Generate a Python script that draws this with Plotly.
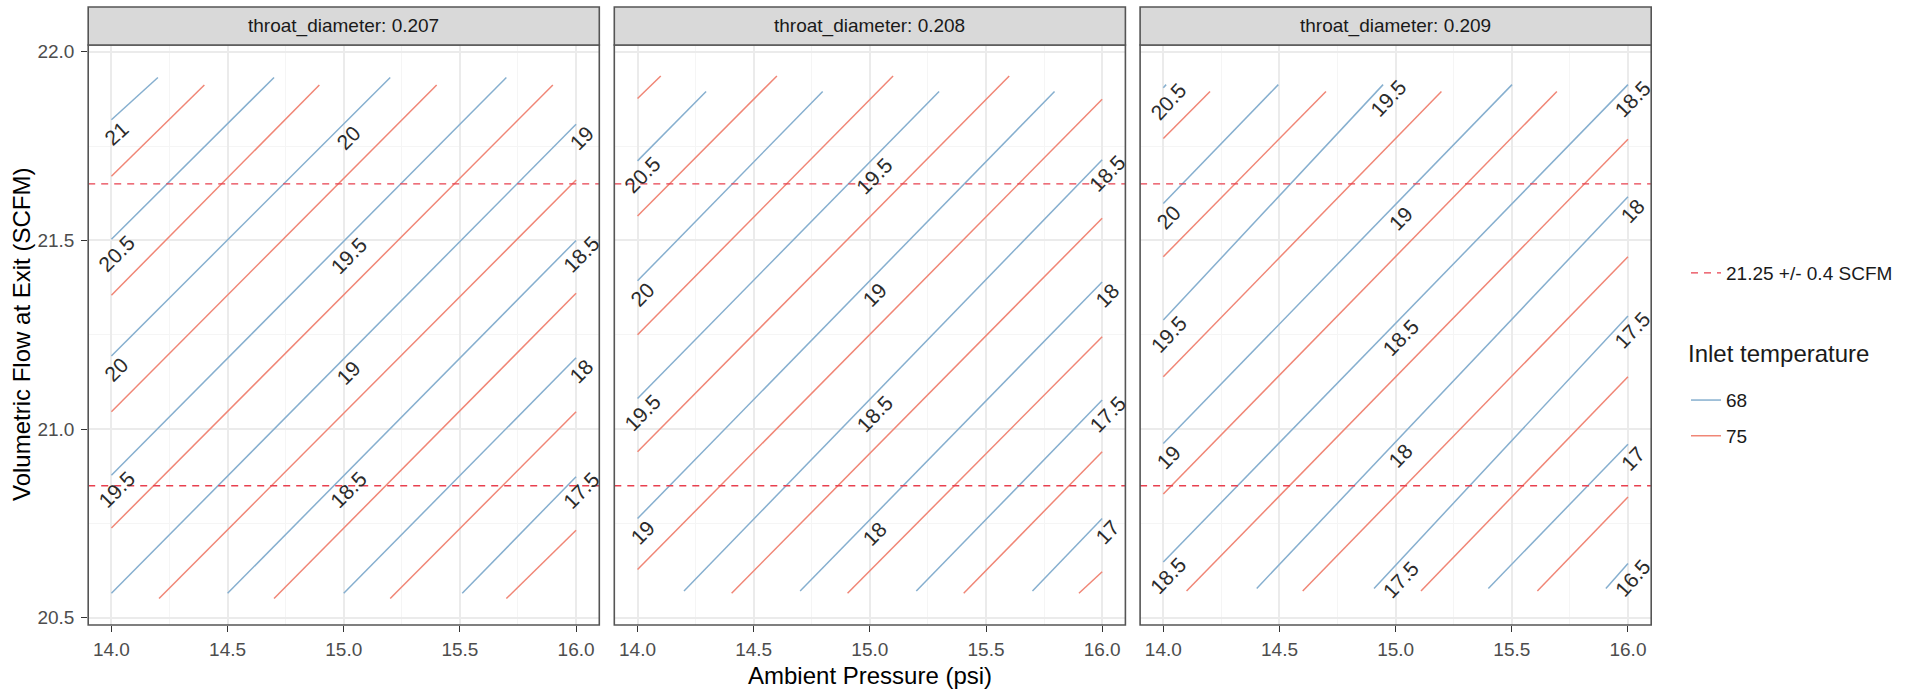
import math
import plotly.graph_objects as go

FIG_W, FIG_H = 1915, 690

# ---------------- data ----------------
facet_values = ["0.207", "0.208", "0.209"]
temperatures = ["68", "75"]
temp_colors = {"68": "#86AFCF", "75": "#F08676"}

target_flow = 21.25
flow_tolerance = 0.4

x_ticks = [14.0, 14.5, 15.0, 15.5, 16.0]
y_ticks = [20.5, 21.0, 21.5, 22.0]
x_range = [13.9, 16.1]
y_range = [20.481, 22.018]

# contour segments: (level, x_start, y_start, x_end, y_end)
d207_t68 = [
    (21.0, 14.00, 21.820, 14.200, 21.932),
    (20.5, 14.00, 21.503, 14.700, 21.932),
    (20.0, 14.00, 21.194, 15.200, 21.932),
    (19.5, 14.00, 20.878, 15.700, 21.932),
    (19.0, 14.00, 20.565, 16.000, 21.808),
    (18.5, 14.50, 20.565, 16.000, 21.500),
    (18.0, 15.00, 20.565, 16.000, 21.189),
    (17.5, 15.51, 20.565, 16.000, 20.874),
]
d207_t75 = [
    (21.0, 14.000, 21.670, 14.400, 21.912),
    (20.5, 14.000, 21.355, 14.895, 21.912),
    (20.0, 14.000, 21.046, 15.400, 21.912),
    (19.5, 14.000, 20.738, 15.900, 21.912),
    (19.0, 14.205, 20.551, 16.000, 21.660),
    (18.5, 14.700, 20.551, 16.000, 21.360),
    (18.0, 15.200, 20.551, 16.000, 21.046),
    (17.5, 15.700, 20.551, 16.000, 20.732),
]
d208_t68 = [
    (20.5, 14.000, 21.711, 14.295, 21.895),
    (20.0, 14.000, 21.393, 14.797, 21.895),
    (19.5, 14.000, 21.081, 15.298, 21.895),
    (19.0, 14.000, 20.763, 15.795, 21.895),
    (18.5, 14.200, 20.571, 16.000, 21.714),
    (18.0, 14.700, 20.571, 16.000, 21.390),
    (17.5, 15.200, 20.571, 16.000, 21.077),
    (17.0, 15.700, 20.571, 16.000, 20.763),
]
d208_t75 = [
    (21.0, 14.000, 21.876, 14.100, 21.936),
    (20.5, 14.000, 21.565, 14.600, 21.936),
    (20.0, 14.000, 21.250, 15.100, 21.936),
    (19.5, 14.000, 20.940, 15.600, 21.936),
    (19.0, 14.000, 20.628, 16.000, 21.874),
    (18.5, 14.405, 20.565, 16.000, 21.559),
    (18.0, 14.904, 20.565, 16.000, 21.245),
    (17.5, 15.404, 20.565, 16.000, 20.940),
    (17.0, 15.900, 20.565, 16.000, 20.622),
]
d209_t68 = [
    (20.5, 14.000, 21.905, 14.012, 21.913),
    (20.0, 14.000, 21.598, 14.495, 21.913),
    (19.5, 14.000, 21.289, 14.946, 21.913),
    (19.0, 14.000, 20.962, 15.501, 21.913),
    (18.5, 14.000, 20.648, 16.000, 21.913),
    (18.0, 14.402, 20.578, 16.000, 21.616),
    (17.5, 14.907, 20.578, 16.000, 21.300),
    (17.0, 15.399, 20.578, 16.000, 20.960),
    (16.5, 15.905, 20.578, 16.000, 20.644),
]
d209_t75 = [
    (20.5, 14.000, 21.770, 14.201, 21.895),
    (20.0, 14.000, 21.457, 14.700, 21.895),
    (19.5, 14.000, 21.139, 15.197, 21.895),
    (19.0, 14.000, 20.828, 15.694, 21.895),
    (18.5, 14.100, 20.571, 16.000, 21.768),
    (18.0, 14.600, 20.571, 16.000, 21.457),
    (17.5, 15.109, 20.571, 16.000, 21.139),
    (17.0, 15.610, 20.571, 16.000, 20.820),
]

contours = {
    ("0.207", "68"): d207_t68, ("0.207", "75"): d207_t75,
    ("0.208", "68"): d208_t68, ("0.208", "75"): d208_t75,
    ("0.209", "68"): d209_t68, ("0.209", "75"): d209_t75,
}

# contour labels (on the 68 contours): (level, x position along the axis)
labels_207 = [(21, 14), (20.5, 14), (20, 14), (19.5, 14),
              (20, 15), (19.5, 15), (19, 15), (18.5, 15),
              (19, 16), (18.5, 16), (18, 16), (17.5, 16)]
labels_208 = [(20.5, 14), (20, 14), (19.5, 14), (19, 14),
              (19.5, 15), (19, 15), (18.5, 15), (18, 15),
              (18.5, 16), (18, 16), (17.5, 16), (17, 16)]
labels_209 = [(20.5, 14), (20, 14), (19.5, 14), (19, 14), (18.5, 14),
              (19.5, 15), (19, 15), (18.5, 15), (18, 15), (17.5, 15),
              (18.5, 16), (18, 16), (17.5, 16), (17, 16), (16.5, 16)]
contour_labels = {"0.207": labels_207, "0.208": labels_208, "0.209": labels_209}

# ---------------- layout geometry (pixels) ----------------
panel_left_px = [88.2, 614.3, 1140.1]
panel_w_px = 511.1
panel_top_px, panel_bottom_px = 45, 625
strip_top_px = 7

def xp(px):
    return px / FIG_W

def yp(py):
    return 1 - py / FIG_H

FONT = "Liberation Sans, Arial, Helvetica, sans-serif"
BORDER = "#555555"

y_dom = [yp(panel_bottom_px), yp(panel_top_px)]
px_per_x = panel_w_px / (x_range[1] - x_range[0])
px_per_y = (panel_bottom_px - panel_top_px) / (y_range[1] - y_range[0])

fig = go.Figure()

def ax_suffix(i):
    return "" if i == 0 else str(i + 1)

for i, fv in enumerate(facet_values):
    xa = "x" + ax_suffix(i)
    ya = "y" + ax_suffix(i)
    for t in temperatures:
        xs, ys = [], []
        for lev, x0, y0, x1, y1 in contours[(fv, t)]:
            xs += [x0, x1, None]
            ys += [y0, y1, None]
        tr = dict(
            x=xs, y=ys, mode="lines", xaxis=xa, yaxis=ya,
            line=dict(color=temp_colors[t], width=1.5),
            name=t, legend="legend2", legendgroup="t" + t,
            showlegend=(i == 0), hoverinfo="skip")
        if t == temperatures[0]:
            tr["legendgrouptitle"] = dict(text=" ", font=dict(size=8))
        fig.add_trace(go.Scatter(**tr))
    # tolerance band lines
    fig.add_trace(go.Scatter(
        x=[x_range[0], x_range[1], None, x_range[0], x_range[1]],
        y=[target_flow + flow_tolerance] * 2 + [None] + [target_flow - flow_tolerance] * 2,
        mode="lines", xaxis=xa, yaxis=ya,
        line=dict(color="#E8404F", width=1.4, dash="7px,6px"),
        name="21.25 +/- 0.4 SCFM", legend="legend", legendgroup="tol",
        showlegend=(i == 0), hoverinfo="skip"))

    # contour labels
    segs = {lev: (x0, y0, x1, y1) for lev, x0, y0, x1, y1 in contours[(fv, "68")]}
    for lev, xa_pos in contour_labels[fv]:
        x0, y0, x1, y1 = segs[lev]
        xq = min(max(xa_pos, x0), x1)
        slope = (y1 - y0) / (x1 - x0)
        yq = y0 + slope * (xq - x0)
        ang = math.degrees(math.atan(slope * px_per_y / px_per_x))
        fig.add_annotation(x=xq, y=yq, xref=xa, yref=ya, text="%g" % lev, showarrow=False,
                           xanchor="center", yanchor="middle",
                           textangle=-ang, xshift=5, yshift=-14,
                           font=dict(family=FONT, size=21, color="#2B2B2B"))

    # axes
    xd = [xp(panel_left_px[i]), xp(panel_left_px[i] + panel_w_px)]
    fig.update_layout(**{
        "xaxis" + ax_suffix(i): dict(
            domain=xd, range=x_range, anchor=ya, tickvals=x_ticks, tickformat=".1f",
            ticks="outside", ticklen=6, tickcolor="#333333", tickwidth=1.2,
            ticklabelstandoff=1,
            showgrid=True, gridcolor="#EBEBEB", gridwidth=1.6, zeroline=False,
            showline=False, automargin=False,
            tickfont=dict(family=FONT, size=19, color="#4D4D4D"),
            minor=dict(dtick=0.25, tick0=14, showgrid=True, gridcolor="#F5F5F5",
                       gridwidth=1, ticks=""),
        ),
        "yaxis" + ax_suffix(i): dict(
            domain=y_dom, range=y_range, anchor=xa, tickvals=y_ticks, tickformat=".1f",
            ticks="outside" if i == 0 else "", ticklen=6, tickcolor="#333333", tickwidth=1.2,
            showticklabels=(i == 0), ticklabelstandoff=3,
            showgrid=True, gridcolor="#EBEBEB", gridwidth=1.6, zeroline=False,
            showline=False, automargin=False,
            tickfont=dict(family=FONT, size=19, color="#4D4D4D"),
            minor=dict(dtick=0.25, tick0=20.5, showgrid=True, gridcolor="#F5F5F5",
                       gridwidth=1, ticks=""),
        ),
    })

    # panel border
    fig.add_shape(type="rect", xref=xa + " domain", yref=ya + " domain",
                  x0=0, x1=1, y0=0, y1=1, line=dict(color=BORDER, width=1.6),
                  fillcolor="rgba(0,0,0,0)", layer="above")
    # strip
    fig.add_shape(type="rect", xref=xa + " domain", yref="paper",
                  x0=0, x1=1, y0=yp(panel_top_px), y1=yp(strip_top_px),
                  line=dict(color=BORDER, width=1.6), fillcolor="#D9D9D9", layer="above")
    fig.add_annotation(xref=xa + " domain", yref="paper", x=0.5,
                       y=yp((panel_top_px + strip_top_px) / 2),
                       xanchor="center", yanchor="middle",
                       text="throat_diameter: " + fv, showarrow=False,
                       font=dict(family=FONT, size=19, color="#1A1A1A"))

# axis titles
fig.add_annotation(xref="paper", yref="paper",
                   x=xp(panel_left_px[1] + panel_w_px / 2), y=yp(675),
                   xanchor="center", yanchor="middle",
                   text="Ambient Pressure (psi)", showarrow=False,
                   font=dict(family=FONT, size=24, color="#000000"))
fig.add_annotation(xref="paper", yref="paper", x=xp(22),
                   y=yp((panel_top_px + panel_bottom_px) / 2),
                   xanchor="center", yanchor="middle",
                   text="Volumetric Flow at Exit (SCFM)", showarrow=False, textangle=-90,
                   font=dict(family=FONT, size=24, color="#000000"))

fig.update_layout(
    width=FIG_W, height=FIG_H,
    margin=dict(l=0, r=0, t=0, b=0),
    paper_bgcolor="white", plot_bgcolor="white",
    font=dict(family=FONT, color="#1A1A1A"),
    legend=dict(x=xp(1686), y=yp(273), xanchor="left", yanchor="middle",
                font=dict(family=FONT, size=19, color="#1A1A1A"),
                bgcolor="rgba(0,0,0,0)", borderwidth=0),
    legend2=dict(x=xp(1686), y=yp(331), xanchor="left", yanchor="top",
                 title=dict(text="Inlet temperature", font=dict(family=FONT, size=24, color="#1A1A1A")),
                 traceorder="grouped", tracegroupgap=8,
                 font=dict(family=FONT, size=19, color="#1A1A1A"),
                 bgcolor="rgba(0,0,0,0)", borderwidth=0),
    hovermode=False,
)

# remove the browser's default 8px body margin so the figure fills the window exactly
fig.write_html("out.html",
               config={"displayModeBar": False},
               post_script="document.body.style.margin='0px';document.body.style.overflow='hidden';")
